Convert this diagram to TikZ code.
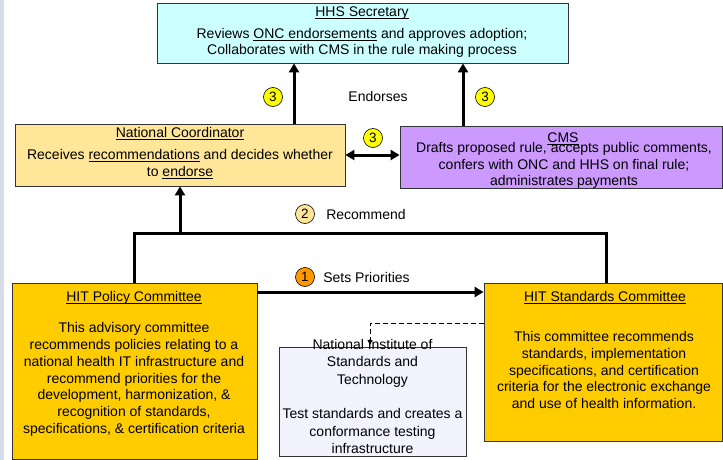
\documentclass[tikz,border=0pt]{standalone}
\usepackage{fontspec}
\setmainfont{Liberation Sans}
\usetikzlibrary{arrows.meta}
\newcommand{\uln}[1]{\setbox0=\hbox{#1}\rlap{\rule[-2.4pt]{\wd0}{0.8pt}}\box0\relax}
\definecolor{hhscyan}{HTML}{CCFFFF}
\definecolor{ncyellow}{HTML}{FFE699}
\definecolor{cmsviolet}{HTML}{CC99FF}
\definecolor{hitgold}{HTML}{FFCC00}
\definecolor{nistlilac}{HTML}{F3F3FF}
\definecolor{stepyellow}{HTML}{FFFF00}
\definecolor{steporange}{HTML}{FF9900}
\definecolor{sidestrip}{HTML}{D5DCE8}
\tikzset{
	box/.style={draw=black!80, line width=0.8pt, inner sep=0pt},
	txt/.style={align=center, inner sep=0pt, font=\fontsize{14}{16.5}\selectfont},
	conn/.style={line width=3pt, -{Triangle[length=9pt,width=10pt]}},
	link/.style={line width=3pt},
	num/.style={circle, draw=black, line width=0.6pt, minimum size=19pt, inner sep=0pt, font=\fontsize{13.5}{13.5}\selectfont},
}

\begin{document}
\begin{tikzpicture}[x=1pt, y=-1pt]
			%%%%% START %%%%%
			\useasboundingbox (0,0) rectangle (723,460);
			\fill[sidestrip] (0,0) rectangle (4,460);
			
			% boxes
			\node[box, fill=hhscyan, minimum width=411, minimum height=60] (hhs) at (362.5,33) {};
			\node[box, fill=ncyellow, minimum width=330, minimum height=62] (nc) at (180,155) {};
			\node[box, fill=cmsviolet, minimum width=322, minimum height=62] (cms) at (561,157) {};
			\node[box, fill=hitgold, minimum width=245, minimum height=176] (pol) at (134.5,371) {};
			\node[box, fill=hitgold, minimum width=238, minimum height=158] (std) at (603,362) {};
			\node[box, fill=nistlilac, minimum width=187, minimum height=109] (nist) at (372.5,401.5) {};
			
			% texts
			\node[txt] (hhstitle) at (362,13) {\uln{HHS Secretary}};
			\node[txt, font=\fontsize{14}{16}\selectfont] (hhsbody) at (362,43) {Reviews \uln{ONC endorsements} and approves adoption;\\Collaborates with CMS in the rule making process};
			\node[txt] (nctitle) at (180,134) {\uln{National Coordinator}};
			\node[txt, font=\fontsize{14}{17}\selectfont] (ncbody) at (180,164.5) {Receives \uln{recommendations} and decides whether\\to \uln{endorse}};
			\node[txt] (cmsbody) at (564,165.5) {Drafts proposed rule, accepts public comments,\\confers with ONC and HHS on final rule;\\administrates payments};
			\node[txt] (cmstitle) at (563,139) {\uln{CMS}};
			\node[txt] (poltitle) at (134,298) {\uln{HIT Policy Committee}};
			\node[txt, font=\fontsize{14}{16.8}\selectfont] (polbody) at (134,379.5) {This advisory committee\\recommends policies relating to a\\national health IT infrastructure and\\recommend priorities for the\\development, harmonization, \&\\recognition of standards,\\specifications, \& certification criteria};
			\node[txt] (stdtitle) at (605,298) {\uln{HIT Standards Committee}};
			\node[txt, font=\fontsize{14}{16.6}\selectfont] (stdbody) at (604,370) {This committee recommends\\standards, implementation\\specifications, and certification\\criteria for the electronic exchange\\and use of health information.};
			\node[txt, font=\fontsize{14}{17.3}\selectfont] (nisttext) at (372.5,396.5) {National Institute of\\Standards and\\Technology\\[17.3pt]Test standards and creates a\\conformance testing\\infrastructure};
			
			% endorse
			\draw[conn] (nc.north -| 294,0) -- (hhs.south -| 294,0);
			\draw[conn] (cms.north -| 463,0) -- (hhs.south -| 463,0);
			\draw[link, {Triangle[length=9pt,width=10pt]}-{Triangle[length=9pt,width=10pt]}] (nc.east) -- (cms.west |- nc.east);
			\node[num, fill=stepyellow] (n3a) at (273,97) {3};
			\node[num, fill=stepyellow] (n3b) at (485,97) {3};
			\node[num, fill=stepyellow] (n3c) at (373,138) {3};
			\node[txt] (endorses) at (378,96) {Endorses};
			
			% recommend
			\coordinate (recl) at (134.5,233);
			\coordinate (recr) at (606,233);
			\draw[link] (pol.north) -- (recl) -- (recr) -- (std.north -| recr);
			\draw[conn] (recl -| nc.south) -- (nc.south);
			\node[num, fill=ncyellow] (n2) at (305,214) {2};
			\node[txt] (recommend) at (366,214) {Recommend};
			
			% priorities
			\draw[conn] (pol.east |- 0,292) -- (std.west |- 0,292);
			\node[num, fill=steporange] (n1) at (305,277) {1};
			\node[txt] (priorities) at (366.5,277) {Sets Priorities};
			
			% testing
			\draw[line width=1pt, dash pattern=on 5pt off 3pt, -{Triangle[length=5pt,width=5pt]}] (std.west |- 0,323) -| (370,345);
			
			%%%%% END %%%%%
\end{tikzpicture}
\end{document}
